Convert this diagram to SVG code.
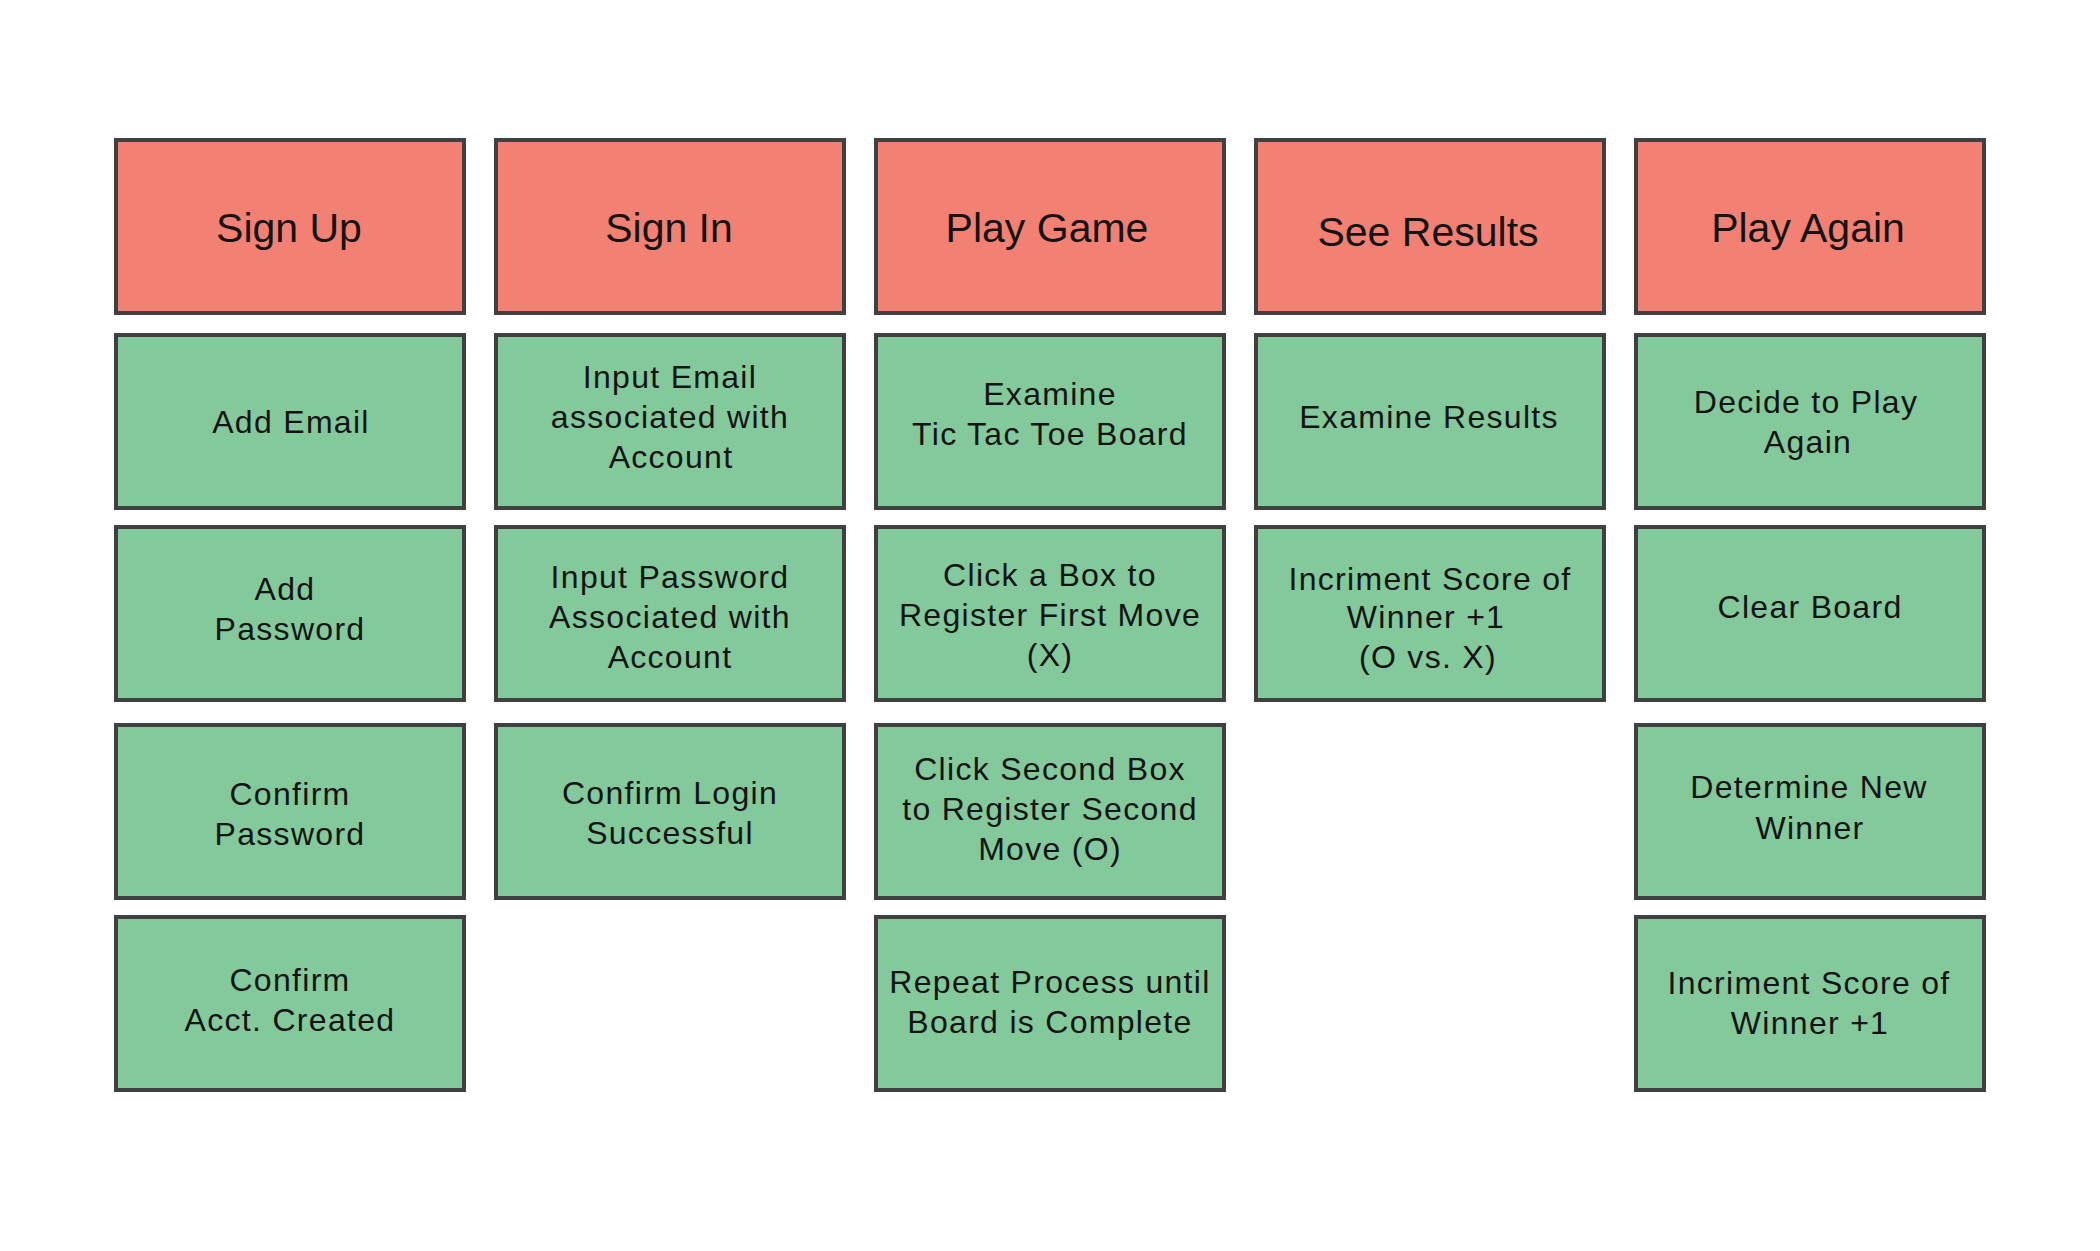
<svg xmlns="http://www.w3.org/2000/svg" width="2100" height="1251" viewBox="0 0 2100 1251">
<style>
.box{stroke:#404040;stroke-width:4}
.hd{fill:#F38173}
.st{fill:#83C99B}
text{font-family:"Liberation Sans",Arial,sans-serif;fill:#141414;text-anchor:middle}
.h{font-size:41px}
.b{font-size:32px;letter-spacing:1.3px}
</style>
<rect width="2100" height="1251" fill="#fff"/>
<g id="connectors"></g>
<g id="col1">
<g id="signup"><rect class="box hd" x="116" y="140" width="348" height="173"/><text class="h" x="289" y="242">Sign Up</text></g>
<g id="addemail"><rect class="box st" x="116" y="335" width="348" height="173"/><text class="b" x="291" y="433">Add Email</text></g>
<g id="addpassword"><rect class="box st" x="116" y="527" width="348" height="173"/><text class="b"><tspan x="285" y="600">Add</tspan><tspan x="290" y="640">Password</tspan></text></g>
<g id="confirmpassword"><rect class="box st" x="116" y="725" width="348" height="173"/><text class="b"><tspan x="290" y="805">Confirm</tspan><tspan x="290" y="845">Password</tspan></text></g>
<g id="confirmacct"><rect class="box st" x="116" y="917" width="348" height="173"/><text class="b"><tspan x="290" y="991">Confirm</tspan><tspan x="290" y="1031">Acct. Created</tspan></text></g>
</g>
<g id="col2">
<g id="signin"><rect class="box hd" x="496" y="140" width="348" height="173"/><text class="h" x="669" y="242">Sign In</text></g>
<g id="inputemail"><rect class="box st" x="496" y="335" width="348" height="173"/><text class="b"><tspan x="670" y="388">Input Email</tspan><tspan x="670" y="428">associated with</tspan><tspan x="671" y="468">Account</tspan></text></g>
<g id="inputpassword"><rect class="box st" x="496" y="527" width="348" height="173"/><text class="b"><tspan x="670" y="588">Input Password</tspan><tspan x="670" y="628">Associated with</tspan><tspan x="670" y="668">Account</tspan></text></g>
<g id="confirmlogin"><rect class="box st" x="496" y="725" width="348" height="173"/><text class="b"><tspan x="670" y="804">Confirm Login</tspan><tspan x="670" y="844">Successful</tspan></text></g>
</g>
<g id="col3">
<g id="playgame"><rect class="box hd" x="876" y="140" width="348" height="173"/><text class="h" x="1047" y="242">Play Game</text></g>
<g id="examineboard"><rect class="box st" x="876" y="335" width="348" height="173"/><text class="b"><tspan x="1050" y="405">Examine</tspan><tspan x="1050" y="445">Tic Tac Toe Board</tspan></text></g>
<g id="firstmove"><rect class="box st" x="876" y="527" width="348" height="173"/><text class="b"><tspan x="1050" y="586">Click a Box to</tspan><tspan x="1050" y="626">Register First Move</tspan><tspan x="1050" y="666">(X)</tspan></text></g>
<g id="secondmove"><rect class="box st" x="876" y="725" width="348" height="173"/><text class="b"><tspan x="1050" y="780">Click Second Box</tspan><tspan x="1050" y="820">to Register Second</tspan><tspan x="1050" y="860">Move (O)</tspan></text></g>
<g id="repeat"><rect class="box st" x="876" y="917" width="348" height="173"/><text class="b"><tspan x="1050" y="993">Repeat Process until</tspan><tspan x="1050" y="1033">Board is Complete</tspan></text></g>
</g>
<g id="col4">
<g id="seeresults"><rect class="box hd" x="1256" y="140" width="348" height="173"/><text class="h" x="1428" y="246">See Results</text></g>
<g id="examineresults"><rect class="box st" x="1256" y="335" width="348" height="173"/><text class="b" x="1429" y="428">Examine Results</text></g>
<g id="incriment1"><rect class="box st" x="1256" y="527" width="348" height="173"/><text class="b"><tspan x="1430" y="590">Incriment Score of</tspan><tspan x="1426" y="628">Winner +1</tspan><tspan x="1428" y="668">(O vs. X)</tspan></text></g>
</g>
<g id="col5">
<g id="playagain"><rect class="box hd" x="1636" y="140" width="348" height="173"/><text class="h" x="1808" y="242">Play Again</text></g>
<g id="decide"><rect class="box st" x="1636" y="335" width="348" height="173"/><text class="b"><tspan x="1806" y="413">Decide to Play</tspan><tspan x="1808" y="453">Again</tspan></text></g>
<g id="clearboard"><rect class="box st" x="1636" y="527" width="348" height="173"/><text class="b" x="1810" y="618">Clear Board</text></g>
<g id="determine"><rect class="box st" x="1636" y="725" width="348" height="173"/><text class="b"><tspan x="1809" y="798">Determine New</tspan><tspan x="1810" y="839">Winner</tspan></text></g>
<g id="incriment2"><rect class="box st" x="1636" y="917" width="348" height="173"/><text class="b"><tspan x="1809" y="994">Incriment Score of</tspan><tspan x="1810" y="1034">Winner +1</tspan></text></g>
</g>
</svg>
